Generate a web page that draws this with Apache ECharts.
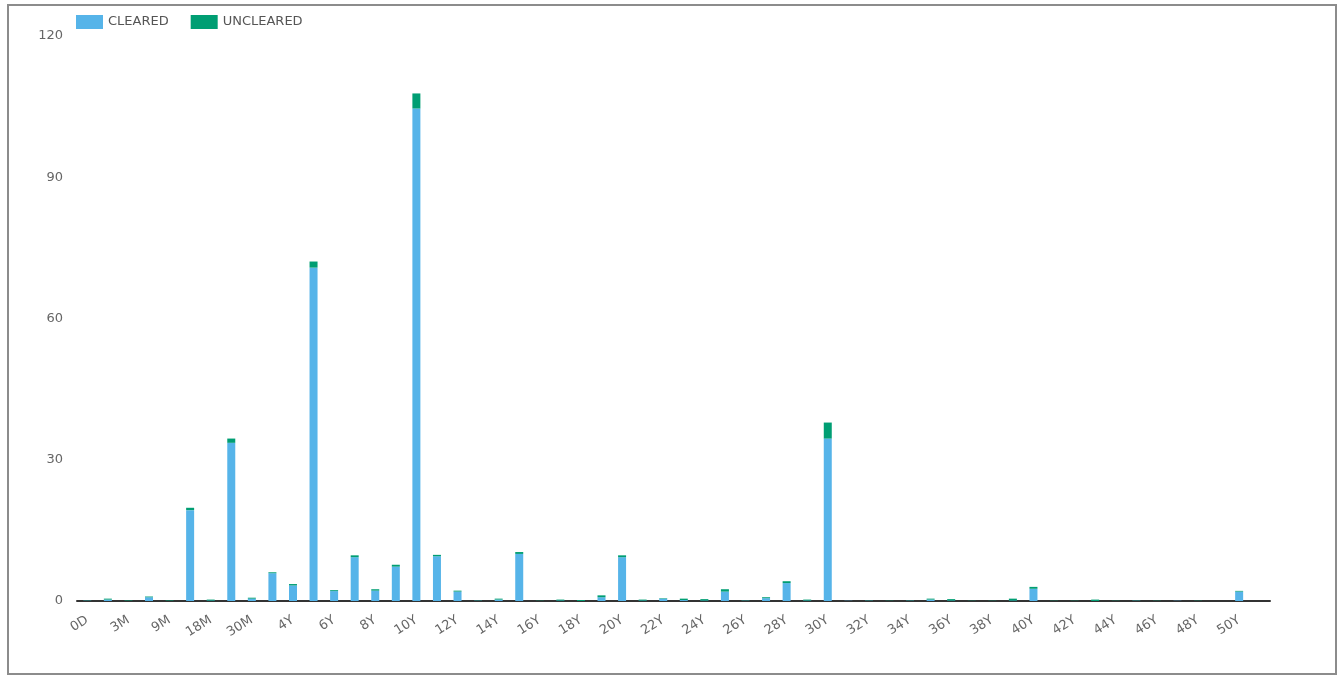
<!DOCTYPE html>
<html>
<head>
<meta charset="utf-8">
<script src="https://cdn.jsdelivr.net/npm/echarts@6/dist/echarts.min.js"></script>
<style>
html,body{margin:0;padding:0;background:#fff;}
#chart{position:absolute;left:0;top:0;width:1343px;height:680px;}
#frame{position:absolute;left:7px;top:4px;width:1326px;height:667px;border:2px solid #8c8c8c;pointer-events:none;}
</style>
</head>
<body>
<div id="chart"></div>
<div id="frame"></div>
<script>
const categories = ['0D','1M','3M','6M','9M','1Y','18M','2Y','30M','3Y',
  '4Y','5Y','6Y','7Y','8Y','9Y','10Y','11Y','12Y','13Y','14Y','15Y','16Y','17Y','18Y','19Y',
  '20Y','21Y','22Y','23Y','24Y','25Y','26Y','27Y','28Y','29Y','30Y','31Y','32Y','33Y','34Y',
  '35Y','36Y','37Y','38Y','39Y','40Y','41Y','42Y','43Y','44Y','45Y','46Y','47Y','48Y','49Y',
  '50Y','60Y'];
const cleared = [0.05,0.3,0,0.8,0,19.3,0.1,33.6,0.5,5.9,
  3.3,70.8,2.1,9.3,2.2,7.3,104.6,9.5,2.0,0.05,0.3,10.0,0,0.1,0,0.8,
  9.3,0.1,0.5,0.2,0.1,2.0,0.05,0.6,3.8,0.1,34.5,0.05,0.05,0,0.05,
  0.3,0.1,0,0,0.1,2.6,0,0,0,0,0.05,0,0.05,0,0,
  2.0,0];
const uncleared = [0.05,0.2,0.1,0.15,0.1,0.5,0.2,0.9,0.2,0.2,
  0.3,1.3,0.2,0.4,0.3,0.4,3.2,0.3,0.2,0.05,0.2,0.4,0.05,0.2,0.2,0.4,
  0.4,0.2,0.1,0.3,0.3,0.5,0.05,0.2,0.4,0.2,3.4,0,0.05,0.05,0.05,
  0.2,0.3,0.05,0.05,0.4,0.4,0.05,0.05,0.3,0.05,0.05,0.05,0,0.05,0,
  0.15,0];
const yTicks = [0,30,60,90,120];

// zero values draw no bar
const noZero = arr => arr.map(v => (v === 0 ? '-' : v));

const chart = echarts.init(document.getElementById('chart'), null, {renderer:'canvas'});
const FONT = 'DejaVu Sans';
chart.setOption({
  animation:false,
  textStyle:{fontFamily:FONT},
  legend:{
    left:71, top:10, itemWidth:27, itemHeight:14, itemGap:22, icon:'rect',
    textStyle:{fontFamily:FONT, fontSize:13, color:'#555'},
    data:['CLEARED','UNCLEARED']
  },
  grid:{left:77, right:73, top:36, bottom:79, containLabel:false},
  xAxis:{
    type:'category', data:categories,
    axisLine:{lineStyle:{color:'#333', width:2}},
    axisTick:{show:false},
    axisLabel:{interval:1, rotate:32, margin:18, fontFamily:FONT, fontSize:13, color:'#666'}
  },
  yAxis:{
    type:'value', min:yTicks[0], max:yTicks[yTicks.length-1], interval:30,
    axisLine:{show:false}, axisTick:{show:false}, splitLine:{show:false},
    axisLabel:{margin:14, fontFamily:FONT, fontSize:13, color:'#666'}
  },
  series:[
    {name:'CLEARED', type:'bar', stack:'a', data:noZero(cleared), barWidth:8,
     itemStyle:{color:'#56B4E9', borderWidth:0}},
    {name:'UNCLEARED', type:'bar', stack:'a', data:noZero(uncleared), barWidth:8,
     itemStyle:{color:'#009E73', borderWidth:0}}
  ]
});
</script>
</body>
</html>
